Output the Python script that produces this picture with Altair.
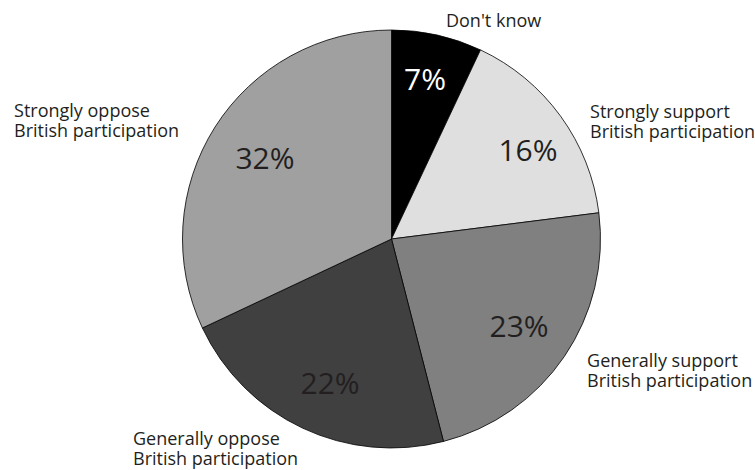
import altair as alt
import pandas as pd

categories = ["Don't know", "Strongly support", "Generally support",
              "Generally oppose", "Strongly oppose"]
labels = ["Don't know",
          "Strongly support\nBritish participation",
          "Generally support\nBritish participation",
          "Generally oppose\nBritish participation",
          "Strongly oppose\nBritish participation"]
values = [7, 16, 23, 22, 32]
pct_labels = ["7%", "16%", "23%", "22%", "32%"]
colors = ["#000000", "#dfdfdf", "#808080", "#404040", "#a0a0a0"]

df = pd.DataFrame({"category": categories, "label": labels, "value": values,
                   "pct": pct_labels, "idx": list(range(len(values)))})
df["end"] = df["value"].cumsum()
df["start"] = df["end"] - df["value"]
df["mid"] = df["start"] + df["value"] / 2
total = float(sum(values))

theta_scale = alt.Scale(domain=[0, total])

base = alt.Chart(df)

arcs = base.mark_arc(outerRadius=209, stroke="#000000", strokeWidth=0.8).encode(
    theta=alt.Theta("start:Q", scale=theta_scale),
    theta2="end:Q",
    color=alt.Color("category:N", scale=alt.Scale(domain=categories, range=colors), legend=None),
)

# styling offsets (pixels) for each label: percent (dx, dy), outer (dx, dy)
pct_off = [(-0.7, -5.0), (9.5, 5.3), (-2.3, 1.0), (5.4, 3.5), (6.0, 5.0)]
out_off = [(5.4, 2.5), (16.5, 6.5), (9.5, -3.5), (-162.7, -2.5), (-187.5, -6.5)]

layers = [arcs]
for i in range(len(values)):
    pdx, pdy = pct_off[i]
    odx, ody = out_off[i]
    layers.append(
        base.transform_filter(alt.datum.idx == i).mark_text(
            radius=157, fontSize=30, font="Open Sans", align="center", baseline="middle",
            dx=pdx, dy=pdy, color="#ffffff" if i == 0 else "#231f20",
        ).encode(theta=alt.Theta("mid:Q", scale=theta_scale), text="pct:N")
    )
    layers.append(
        base.transform_filter(alt.datum.idx == i).mark_text(
            radius=225, fontSize=18, font="Open Sans", align="left", baseline="middle",
            dx=odx, dy=ody, lineBreak="\n", lineHeight=20, color="#231f20",
        ).encode(theta=alt.Theta("mid:Q", scale=theta_scale), text="label:N")
    )

chart = alt.layer(*layers).properties(
    width=727, height=462,
    padding={"left": 28, "top": 8, "right": 0, "bottom": 0},
    autosize=alt.AutoSizeParams(type="none"),
    background="#ffffff",
).configure_view(stroke=None)

chart.save("out.html", embed_options={"renderer": "svg", "actions": False})
